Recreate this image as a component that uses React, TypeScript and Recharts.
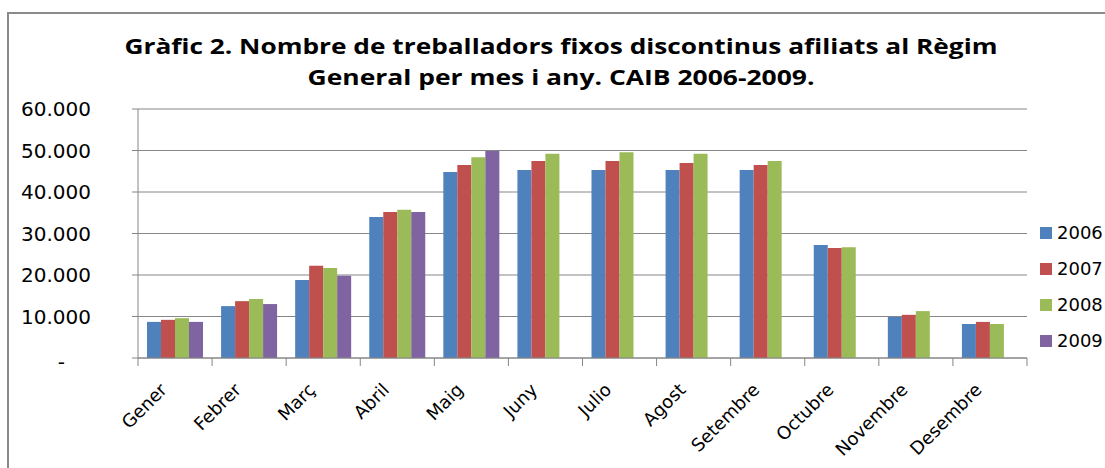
import React from 'react';
import { BarChart, Bar, XAxis, YAxis, CartesianGrid } from 'recharts';

const months = ['Gener', 'Febrer', 'Març', 'Abril', 'Maig', 'Juny', 'Julio', 'Agost', 'Setembre', 'Octubre', 'Novembre', 'Desembre'];
const years = ['2006', '2007', '2008', '2009'];
const s2006 = [8700, 12500, 18800, 34000, 44800, 45300, 45300, 45300, 45300, 27200, 9900, 8200];
const s2007 = [9200, 13700, 22200, 35200, 46500, 47500, 47500, 47000, 46500, 26500, 10400, 8700];
const s2008 = [9600, 14200, 21700, 35700, 48400, 49200, 49600, 49200, 47500, 26700, 11300, 8200];
const s2009: (number | null)[] = [8700, 13000, 19800, 35200, 49900, null, null, null, null, null, null, null];
const yTicks = [0, 10000, 20000, 30000, 40000, 50000, 60000];
const colors = ['#4F81BD', '#C0504D', '#9BBB59', '#8064A2'];
const titleLines = ['Gràfic 2. Nombre de treballadors fixos discontinus afiliats al Règim', 'General per mes i any. CAIB 2006-2009.'];

const series = [s2006, s2007, s2008, s2009];
const data = months.map((m, i) => {
  const row: any = { month: m };
  years.forEach((y, k) => { row[y] = series[k][i]; });
  return row;
});

const FONT = '"DejaVu Sans", Verdana, sans-serif';

const fmt = (v: number) => {
  if (v === 0) return '-';
  const s = String(Math.round(v));
  return s.replace(/\B(?=(\d{3})+(?!\d))/g, '.');
};

const YTick = (props: any) => {
  const { x, y, payload } = props;
  const isZero = payload.value === 0;
  return (
    <text x={isZero ? x - 26 : x} y={isZero ? y + 4 : y} dy="0.355em" textAnchor="end" fontFamily={FONT} fontSize={20} fill="#000">
      {fmt(payload.value)}
    </text>
  );
};

const XTick = (props: any) => {
  const { x, y, payload, index } = props;
  const off = payload && payload.offset != null ? payload.offset : 37;
  const last = index === months.length - 1;
  const tx = x - 7;
  const ty = y + 33;
  return (
    <g>
      <line x1={x - off} y1={y} x2={x - off} y2={y + 8} stroke="#868686" strokeWidth={1} />
      {last && <line x1={x + off} y1={y} x2={x + off} y2={y + 8} stroke="#868686" strokeWidth={1} />}
      <text
        x={tx}
        y={ty}
        textAnchor="end"
        fontFamily={FONT}
        fontSize={18}
        fill="#000"
        transform={`rotate(-45 ${tx} ${ty})`}
      >
        {payload.value}
      </text>
    </g>
  );
};

export default function App() {
  return (
    <div style={{ position: 'fixed', width: 1105, height: 468, left: 0, top: 0, overflow: 'hidden', background: '#fff' }}>
      <svg width={1105} height={100} style={{ position: 'absolute', left: 0, top: 0 }}>
        <text x={561} y={54} textAnchor="middle" fontFamily='"Open Sans", sans-serif' fontWeight={700} fontSize={22} fill="#000" textLength={873} lengthAdjust="spacingAndGlyphs">
          {titleLines[0]}
        </text>
        <text x={561} y={85} textAnchor="middle" fontFamily='"Open Sans", sans-serif' fontWeight={700} fontSize={22} fill="#000" textLength={507} lengthAdjust="spacingAndGlyphs">
          {titleLines[1]}
        </text>
      </svg>
      <div style={{ position: 'absolute', left: 0, top: 0 }}>
        <BarChart width={1105} height={468} data={data} margin={{ top: 109, right: 78, bottom: 0, left: 0 }} barGap={0} barSize={14}>
          <CartesianGrid vertical={false} stroke="#868686" strokeWidth={1} />
          <XAxis
            dataKey="month"
            height={110}
            interval={0}
            tickLine={false}
            tickSize={0}
            tickMargin={0}
            axisLine={{ stroke: '#868686' }}
            tick={<XTick />}
          />
          <YAxis
            width={138}
            domain={[0, 60000]}
            ticks={yTicks}
            interval={0}
            tickSize={6}
            tickMargin={41}
            axisLine={{ stroke: '#868686' }}
            tickLine={{ stroke: '#868686' }}
            tick={<YTick />}
          />
          {years.map((y, k) => (
            <Bar key={y} dataKey={y} fill={colors[k]} isAnimationActive={false} />
          ))}
        </BarChart>
      </div>
      <div style={{ position: 'absolute', left: 1040, top: 215 }}>
        {years.map((y, k) => (
          <div key={y} style={{ display: 'flex', alignItems: 'center', height: 36, whiteSpace: 'nowrap' }}>
            <div style={{ width: 12, height: 12, background: colors[k], marginRight: 5 }} />
            <span style={{ fontFamily: FONT, fontSize: 18, color: '#000', lineHeight: '36px' }}>{y}</span>
          </div>
        ))}
      </div>
      <div style={{ position: 'absolute', left: 7, top: 12, width: 1110, height: 2, background: '#8a8a8a' }} />
      <div style={{ position: 'absolute', left: 7, top: 12, width: 2, height: 470, background: '#8a8a8a' }} />
    </div>
  );
}
